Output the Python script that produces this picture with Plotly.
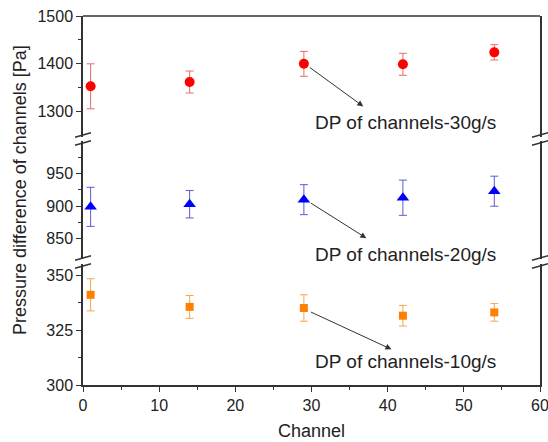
import plotly.graph_objects as go

# ---- data ----
channels = [1, 14, 29, 42, 54]
dp_30 = [1353, 1362, 1400, 1399, 1424]
err_30 = [47, 23, 26, 23, 16]
dp_20 = [899, 903, 910, 913, 923]
err_20 = [30, 21, 23, 27, 23]
dp_10 = [341, 335.5, 335, 331.5, 333]
err_10 = [7.3, 5.2, 6, 4.7, 4]

ticks_top = [1300, 1400, 1500]
minor_top = [1350, 1450]
ticks_mid = [850, 900, 950]
minor_mid = [875, 925, 975]
ticks_bot = [300, 325, 350]
minor_bot = [312.5, 337.5]

labels = ["DP of channels-30g/s", "DP of channels-20g/s", "DP of channels-10g/s"]

FONT = "Liberation Sans, Arial, sans-serif"
AX = "#333333"
TXT = "#222222"

fig = go.Figure()

fig.add_trace(go.Scatter(
    x=channels, y=dp_10, mode="markers", yaxis="y",
    marker=dict(symbol="square", size=8, color="#ff8000"),
    error_y=dict(type="data", array=err_10, color="#f2a84a", thickness=1, width=4),
    showlegend=False))
fig.add_trace(go.Scatter(
    x=channels, y=dp_20, mode="markers", yaxis="y2",
    marker=dict(symbol="triangle-up", size=11, color="#0000ff"),
    error_y=dict(type="data", array=err_20, color="#5a5ad8", thickness=1, width=4),
    showlegend=False))
fig.add_trace(go.Scatter(
    x=channels, y=dp_30, mode="markers", yaxis="y3",
    marker=dict(symbol="circle", size=10, color="#ff0000"),
    error_y=dict(type="data", array=err_30, color="#e86a6a", thickness=1, width=4),
    showlegend=False))

common_y = dict(showline=True, linecolor=AX, linewidth=1.5, mirror=True,
                ticks="outside", ticklen=5, tickwidth=1.2, tickcolor=AX,
                showgrid=False, zeroline=False, automargin=False,
                ticklabeloverflow="allow",
                tickfont=dict(family=FONT, size=16, color=TXT))

ptop, pbot = 16, 385
H = pbot - ptop


def frac(px):
    return (pbot - px) / H


fig.update_layout(
    width=548, height=442, autosize=False,
    margin=dict(l=83, r=8, t=ptop, b=442 - pbot),
    paper_bgcolor="white", plot_bgcolor="white",
    xaxis=dict(range=[0, 60], dtick=10, tick0=0, showline=True, linecolor=AX,
               linewidth=1.5, ticks="outside", ticklen=5, tickwidth=1.2,
               tickcolor=AX, showgrid=False, zeroline=False, automargin=False,
               ticklabeloverflow="allow",
               minor=dict(dtick=5, ticks="outside", ticklen=3, tickcolor=AX),
               tickfont=dict(family=FONT, size=16, color=TXT), anchor="y"),
    yaxis=dict(domain=[0, frac(264)], range=[300, 355], tickmode="array",
               tickvals=ticks_bot,
               minor=dict(tickmode="array", tickvals=minor_bot, ticks="outside",
                          ticklen=3, tickcolor=AX),
               anchor="x", **common_y),
    yaxis2=dict(domain=[frac(259), frac(141)], range=[819, 1000], tickmode="array",
                tickvals=ticks_mid,
                minor=dict(tickmode="array", tickvals=minor_mid, ticks="outside",
                           ticklen=3, tickcolor=AX),
                anchor="x", **common_y),
    yaxis3=dict(domain=[frac(137), 1], range=[1247, 1500], tickmode="array",
                tickvals=ticks_top,
                minor=dict(tickmode="array", tickvals=minor_top, ticks="outside",
                           ticklen=3, tickcolor=AX),
                anchor="x", **common_y),
)

shapes = [dict(type="line", xref="paper", yref="paper", x0=0, x1=1, y0=1, y1=1,
               line=dict(color=AX, width=1.5))]
W = 548 - 83 - 8
dx = 8 / W
dy = 2.2 / H
for yc_px in (135, 143, 258, 266):
    yc = frac(yc_px)
    for xc in (0, 1):
        shapes.append(dict(type="line", xref="paper", yref="paper",
                           x0=xc - dx, x1=xc + dx, y0=yc - dy, y1=yc + dy,
                           line=dict(color=AX, width=1.5)))
fig.update_layout(shapes=shapes)

annos = []
# arrows (head near label, tail at the point of channel 29)
arrow_specs = [
    ("x", "y3", 36.8, 1311, -55, -40),
    ("x", "y2", 37.2, 851, -57, -36),
    ("x", "y", 40.5, 316.2, -82, -38),
]
for xr, yr, hx, hy, ax, ay in arrow_specs:
    annos.append(dict(xref=xr, yref=yr, x=hx, y=hy, ax=ax, ay=ay, text="",
                      showarrow=True, arrowhead=2, arrowsize=1.2, arrowwidth=1,
                      arrowcolor="#333333"))
text_specs = [("y3", 1277), ("y2", 825.7), ("y", 310.6)]
for (yr, ty), lab in zip(text_specs, labels):
    annos.append(dict(xref="x", yref=yr, x=42.3, y=ty, text=lab, showarrow=False,
                      xanchor="center", yanchor="middle",
                      font=dict(family=FONT, size=19, color=TXT)))

annos.append(dict(xref="paper", yref="paper", x=(20 - 83) / W, y=frac(190),
                  text="Pressure difference of channels [Pa]", textangle=-90,
                  showarrow=False, xanchor="center", yanchor="middle",
                  font=dict(family=FONT, size=18, color=TXT)))
annos.append(dict(xref="paper", yref="paper", x=0.5, y=frac(431),
                  text="Channel", showarrow=False, xanchor="center", yanchor="middle",
                  font=dict(family=FONT, size=18, color=TXT)))
fig.update_layout(annotations=annos)

fig.write_html("out.html",
               config={"responsive": False, "displayModeBar": False},
               post_script="document.body.style.margin='0';document.body.style.overflow='hidden';")
